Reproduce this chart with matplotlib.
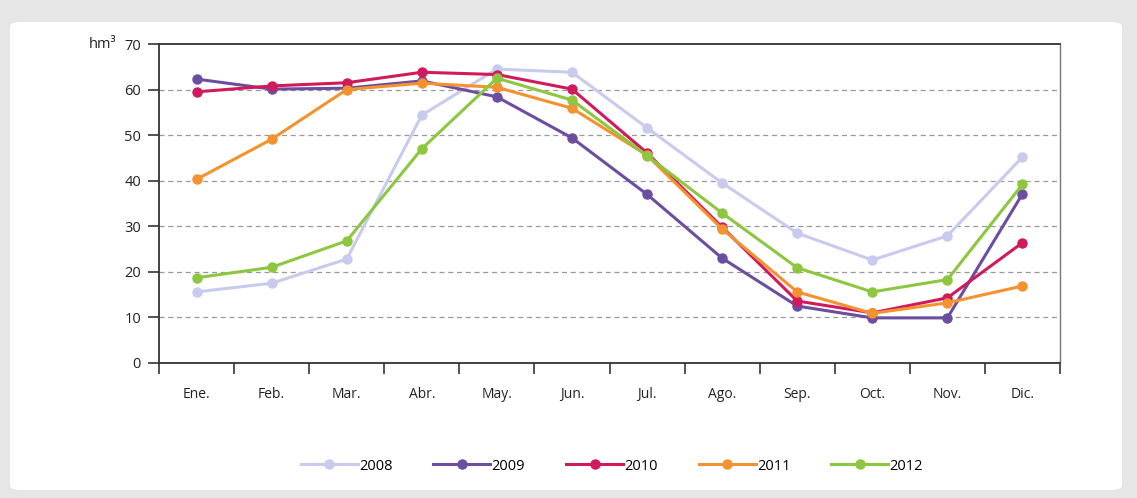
import matplotlib
matplotlib.use("Agg")
import matplotlib.pyplot as plt
from matplotlib.patches import FancyBboxPatch
from matplotlib.lines import Line2D

months = ["Ene.", "Feb.", "Mar.", "Abr.", "May.", "Jun.", "Jul.", "Ago.", "Sep.", "Oct.", "Nov.", "Dic."]
years = ["2008", "2009", "2010", "2011", "2012"]
v2008 = [15.6, 17.5, 22.8, 54.4, 64.5, 63.8, 51.6, 39.5, 28.5, 22.6, 27.9, 45.2]
v2009 = [62.3, 60.1, 60.3, 61.9, 58.4, 49.4, 37.0, 23.0, 12.5, 9.9, 9.9, 37.1]
v2010 = [59.5, 60.8, 61.5, 63.8, 63.3, 60.1, 46.1, 29.8, 13.6, 11.0, 14.3, 26.4]
v2011 = [40.3, 49.1, 60.0, 61.4, 60.5, 55.9, 45.6, 29.4, 15.6, 10.9, 13.2, 16.9]
v2012 = [18.7, 21.0, 26.8, 47.0, 62.5, 57.7, 45.5, 32.9, 20.9, 15.6, 18.3, 39.2]
series = [v2008, v2009, v2010, v2011, v2012]
colors = ["#c8cbee", "#6b4e9f", "#d01a5b", "#f4922f", "#8dc63f"]
yticks = [0, 10, 20, 30, 40, 50, 60, 70]

plt.rcParams['font.family'] = ['Open Sans', 'DejaVu Sans']

fig = plt.figure(figsize=(11.37, 4.98), dpi=100)
fig.patch.set_facecolor("#e6e6e6")
card = FancyBboxPatch((10/1137, 8/498), 1112/1137, 468/498,
                      boxstyle="round,pad=0,rounding_size=0.01",
                      transform=fig.transFigure, facecolor="white",
                      edgecolor="none", zorder=-10)
fig.patches.append(card)

ax = fig.add_axes([159/1137, 1 - 363/498, (1060 - 159)/1137, (363 - 44)/498])
ax.set_zorder(1)
ax.set_facecolor("white")
x = list(range(len(months)))
for vals, c, yr in zip(series, colors, years):
    ax.plot(x, vals, color=c, lw=2.2, marker="o", ms=6.5, label=yr, zorder=3)

ax.set_xlim(-0.5, 11.5)
ax.set_ylim(0, 70)
ax.set_yticks(yticks)
ax.set_yticklabels([str(t) for t in yticks], fontsize=10.5, color="#222222")
for t in yticks[1:-1]:
    ax.axhline(t, color="#999999", lw=0.9, ls=(0, (4, 3)), zorder=1)

ax.set_xticks([i + 0.5 for i in range(-1, 12)], minor=False)
ax.set_xticklabels([""] * 13)
ax.set_xticks(x, minor=True)
ax.set_xticklabels(months, minor=True, fontsize=10, color="#222222")
ax.tick_params(axis="x", which="major", length=8, width=1.2, color="#333333", direction="out")
ax.tick_params(axis="x", which="minor", length=0, pad=17)
ax.tick_params(axis="y", length=8, width=1.2, color="#333333", direction="out", pad=5)

for side in ["left", "bottom", "top"]:
    ax.spines[side].set_color("#333333")
    ax.spines[side].set_linewidth(1.3)
ax.spines["right"].set_color("#777777")
ax.spines["right"].set_linewidth(1.0)

fig.text(102/1137, 1 - 44/498, "hm³", fontsize=10.5, ha="center", va="center", color="#222222")

handles = [Line2D([], [], color=c, lw=2.2, marker="o", ms=6.5) for c in colors]
fig.legend(handles, years, loc="center", bbox_to_anchor=(612/1137, 1 - 466/498),
           ncol=5, frameon=False, fontsize=10.5, handlelength=3.9, columnspacing=2.8,
           handletextpad=0.1)

fig.savefig("out.png", dpi=100, facecolor=fig.get_facecolor())
